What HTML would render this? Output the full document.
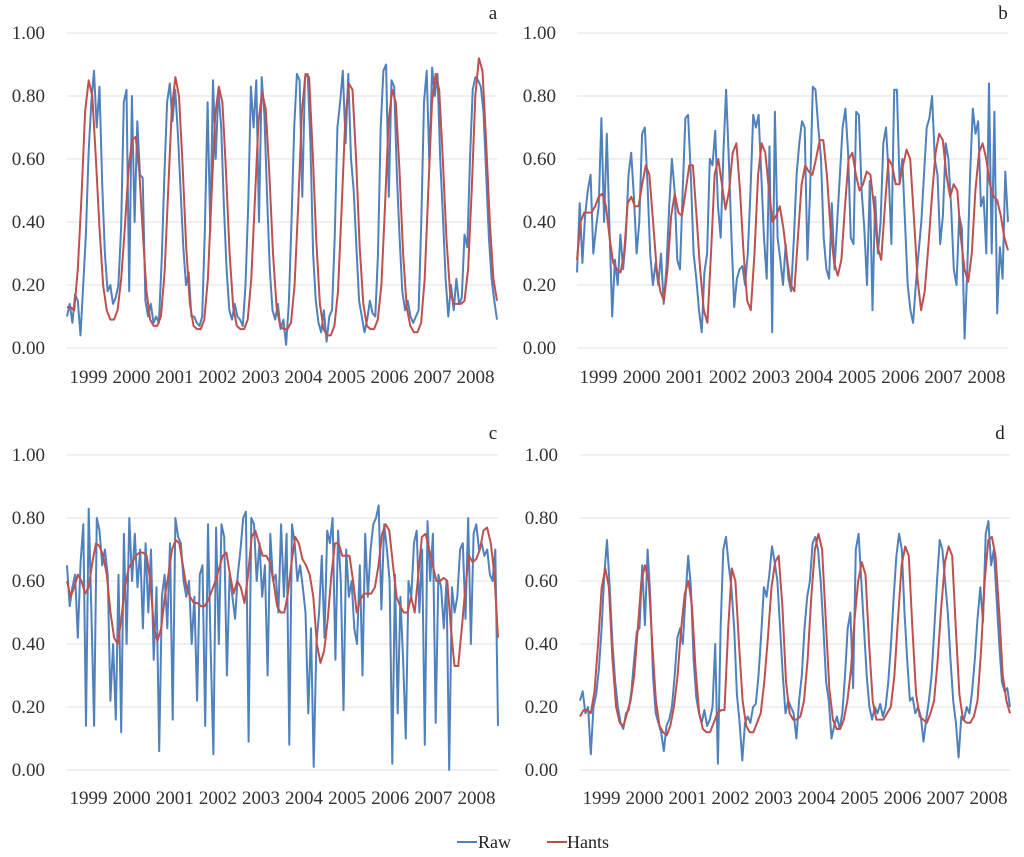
<!DOCTYPE html>
<html><head><meta charset="utf-8">
<style>
html,body{margin:0;padding:0;background:#fff;}
svg{display:block;font-family:"Liberation Serif",serif;}
</style></head>
<body>
<svg id="chart" width="1024" height="857" viewBox="0 0 1024 857" xmlns="http://www.w3.org/2000/svg">
  <g id="legend">
    <line x1="457" y1="842" x2="477" y2="842" stroke="#4f81bd" stroke-width="2"/>
    <text x="478" y="848" font-size="18" fill="#222">Raw</text>
    <line x1="547" y1="842" x2="567" y2="842" stroke="#c0504d" stroke-width="2"/>
    <text x="567" y="848" font-size="18" fill="#222">Hants</text>
  </g>
</svg>
<script>
const years = ["1999","2000","2001","2002","2003","2004","2005","2006","2007","2008"];
const yTicks = [0, 0.2, 0.4, 0.6, 0.8, 1.0];
const yTickLabels = ["0.00","0.20","0.40","0.60","0.80","1.00"];

const hantsA = [0.13,
0.13,0.12,0.25,0.48,0.75,0.85,0.80,0.60,0.38,0.20,0.12,0.09,
0.09,0.12,0.22,0.38,0.56,0.66,0.67,0.56,0.36,0.18,0.09,0.07,
0.07,0.10,0.24,0.50,0.76,0.86,0.80,0.58,0.32,0.14,0.07,0.06,
0.06,0.09,0.22,0.48,0.74,0.83,0.78,0.56,0.30,0.13,0.07,0.06,
0.06,0.09,0.22,0.47,0.72,0.81,0.76,0.55,0.30,0.13,0.07,0.06,
0.06,0.08,0.20,0.46,0.75,0.87,0.86,0.62,0.34,0.14,0.06,0.04,
0.04,0.07,0.18,0.44,0.72,0.84,0.82,0.60,0.32,0.14,0.07,0.06,
0.06,0.09,0.20,0.45,0.72,0.82,0.78,0.57,0.30,0.13,0.07,0.05,
0.05,0.08,0.22,0.50,0.78,0.87,0.82,0.60,0.35,0.18,0.14,0.14,
0.14,0.15,0.25,0.50,0.80,0.92,0.88,0.65,0.40,0.22,0.15];
const rawA = [0.10,0.14,
0.08,0.17,0.15,0.04,0.20,0.36,0.62,0.78,0.88,0.70,0.83,0.52,0.30,0.18,0.20,0.14,
0.16,0.20,0.38,0.78,0.82,0.18,0.80,0.40,0.72,0.55,0.54,0.15,0.10,0.14,0.08,0.10,
0.08,0.28,0.55,0.78,0.84,0.72,0.82,0.68,0.50,0.32,0.20,0.24,0.10,0.10,0.08,0.07,
0.10,0.38,0.78,0.37,0.85,0.60,0.82,0.70,0.45,0.25,0.12,0.09,0.14,0.10,0.09,0.07,
0.20,0.45,0.83,0.70,0.85,0.40,0.86,0.74,0.48,0.25,0.12,0.09,0.14,0.06,0.09,0.01,
0.14,0.40,0.70,0.87,0.85,0.48,0.86,0.87,0.65,0.30,0.15,0.08,0.05,0.12,0.02,0.10,
0.12,0.35,0.70,0.78,0.88,0.65,0.87,0.60,0.50,0.32,0.15,0.10,0.05,0.09,0.15,0.11,
0.10,0.30,0.70,0.88,0.90,0.48,0.85,0.83,0.55,0.35,0.18,0.12,0.15,0.10,0.08,0.10,
0.12,0.40,0.78,0.88,0.58,0.89,0.80,0.87,0.60,0.42,0.22,0.10,0.20,0.12,0.22,0.14,
0.16,0.36,0.32,0.60,0.82,0.86,0.85,0.83,0.75,0.55,0.35,0.22,0.15,0.09];

const hantsB = [
0.28,0.40,0.43,0.43,0.43,0.45,0.48,0.49,0.45,0.35,0.27,0.25,
0.24,0.30,0.46,0.48,0.45,0.45,0.52,0.58,0.55,0.40,0.25,0.18,
0.15,0.25,0.42,0.49,0.43,0.42,0.50,0.58,0.58,0.42,0.25,0.12,
0.08,0.30,0.55,0.60,0.52,0.44,0.50,0.62,0.65,0.50,0.30,0.15,
0.12,0.30,0.55,0.65,0.62,0.50,0.40,0.42,0.45,0.38,0.28,0.20,
0.18,0.35,0.52,0.58,0.56,0.55,0.60,0.66,0.66,0.55,0.38,0.27,
0.23,0.28,0.45,0.60,0.62,0.55,0.50,0.52,0.56,0.55,0.45,0.32,
0.28,0.45,0.60,0.58,0.52,0.52,0.58,0.63,0.60,0.42,0.22,0.12,
0.18,0.32,0.48,0.62,0.68,0.66,0.55,0.48,0.52,0.50,0.35,0.25,
0.21,0.30,0.50,0.62,0.65,0.60,0.52,0.48,0.47,0.42,0.35,0.31];
const rawB = [
0.24,0.46,0.27,0.42,0.50,0.55,0.30,0.38,0.45,0.73,0.40,0.68,0.38,0.10,0.28,0.20,
0.36,0.25,0.35,0.55,0.62,0.48,0.30,0.40,0.68,0.70,0.52,0.30,0.20,0.27,0.20,0.30,
0.14,0.26,0.45,0.60,0.50,0.28,0.25,0.50,0.73,0.74,0.55,0.30,0.22,0.12,0.05,0.24,
0.30,0.60,0.58,0.69,0.45,0.35,0.62,0.82,0.60,0.35,0.13,0.22,0.25,0.26,0.20,0.30,
0.50,0.74,0.70,0.74,0.55,0.35,0.22,0.64,0.05,0.75,0.35,0.28,0.20,0.33,0.22,0.18,
0.35,0.55,0.65,0.72,0.70,0.28,0.50,0.83,0.82,0.70,0.60,0.35,0.25,0.22,0.46,0.25,
0.40,0.55,0.70,0.76,0.62,0.35,0.33,0.75,0.74,0.50,0.38,0.20,0.53,0.12,0.48,0.30,
0.40,0.65,0.70,0.55,0.33,0.82,0.82,0.52,0.60,0.40,0.20,0.12,0.08,0.20,0.30,0.40,
0.55,0.70,0.73,0.80,0.60,0.55,0.33,0.42,0.65,0.60,0.45,0.25,0.20,0.42,0.38,0.03,
0.25,0.55,0.76,0.68,0.72,0.45,0.48,0.30,0.84,0.30,0.75,0.11,0.32,0.22,0.56,0.40];

const hantsC = [
0.60,0.55,0.58,0.62,0.60,0.56,0.58,0.66,0.72,0.71,0.68,0.62,
0.50,0.42,0.40,0.48,0.58,0.64,0.66,0.68,0.69,0.69,0.68,0.60,
0.45,0.41,0.45,0.55,0.62,0.70,0.73,0.72,0.65,0.58,0.55,0.53,
0.53,0.52,0.52,0.54,0.57,0.60,0.64,0.68,0.69,0.62,0.56,0.60,
0.58,0.53,0.62,0.74,0.76,0.72,0.68,0.68,0.66,0.60,0.52,0.50,
0.50,0.56,0.66,0.74,0.72,0.67,0.65,0.62,0.55,0.40,0.34,0.38,
0.48,0.62,0.72,0.72,0.68,0.68,0.68,0.60,0.50,0.54,0.56,0.56,
0.56,0.58,0.65,0.75,0.78,0.76,0.65,0.55,0.52,0.50,0.50,0.55,
0.50,0.62,0.74,0.75,0.70,0.65,0.60,0.60,0.61,0.60,0.45,0.33,
0.33,0.45,0.58,0.68,0.66,0.67,0.70,0.76,0.77,0.72,0.62,0.42];
const rawC = [
0.65,0.52,0.58,0.62,0.42,0.66,0.78,0.14,0.83,0.50,0.14,0.80,0.76,0.65,0.70,0.62,
0.22,0.40,0.16,0.62,0.12,0.75,0.40,0.80,0.60,0.75,0.58,0.70,0.45,0.72,0.50,0.70,
0.35,0.58,0.06,0.55,0.62,0.45,0.72,0.16,0.80,0.74,0.72,0.60,0.55,0.60,0.40,0.55,
0.22,0.62,0.65,0.14,0.78,0.38,0.05,0.77,0.40,0.78,0.74,0.30,0.62,0.55,0.48,0.62,
0.70,0.80,0.82,0.09,0.80,0.78,0.60,0.72,0.55,0.65,0.30,0.75,0.60,0.62,0.50,0.78,
0.55,0.75,0.08,0.78,0.72,0.60,0.65,0.58,0.50,0.18,0.45,0.01,0.40,0.50,0.68,0.42,
0.76,0.72,0.80,0.35,0.76,0.60,0.19,0.70,0.55,0.60,0.45,0.40,0.65,0.30,0.75,0.55,
0.70,0.78,0.80,0.84,0.51,0.78,0.70,0.60,0.02,0.62,0.18,0.55,0.35,0.10,0.60,0.55,
0.72,0.76,0.50,0.70,0.08,0.79,0.60,0.75,0.15,0.62,0.58,0.45,0.60,0.00,0.58,0.50,
0.55,0.70,0.72,0.48,0.80,0.40,0.75,0.78,0.70,0.72,0.68,0.70,0.62,0.60,0.70,0.14];

const hantsD = [
0.17,0.19,0.19,0.18,0.25,0.40,0.58,0.64,0.58,0.35,0.20,0.15,
0.14,0.18,0.22,0.30,0.45,0.60,0.65,0.60,0.40,0.22,0.14,0.12,
0.11,0.14,0.20,0.30,0.45,0.56,0.60,0.52,0.32,0.18,0.13,0.12,
0.12,0.15,0.18,0.19,0.19,0.45,0.64,0.60,0.40,0.22,0.14,0.12,
0.12,0.15,0.18,0.28,0.42,0.58,0.66,0.68,0.52,0.28,0.18,0.16,
0.16,0.17,0.22,0.35,0.55,0.70,0.75,0.70,0.48,0.26,0.16,0.13,
0.13,0.16,0.22,0.32,0.48,0.60,0.66,0.62,0.40,0.22,0.16,0.16,
0.16,0.18,0.20,0.30,0.48,0.65,0.71,0.68,0.45,0.24,0.17,0.16,
0.15,0.18,0.22,0.35,0.52,0.66,0.71,0.68,0.45,0.24,0.16,0.15,
0.15,0.17,0.22,0.38,0.60,0.73,0.74,0.68,0.50,0.30,0.22,0.18];
const rawD = [0.22,
0.25,0.18,0.20,0.05,0.20,0.24,0.32,0.45,0.62,0.73,0.58,0.40,0.28,0.20,0.15,0.13,
0.18,0.19,0.25,0.35,0.44,0.45,0.65,0.46,0.70,0.55,0.30,0.18,0.15,0.12,0.06,0.14,
0.16,0.20,0.30,0.42,0.45,0.40,0.55,0.68,0.58,0.35,0.23,0.18,0.15,0.19,0.14,0.16,
0.20,0.40,0.02,0.45,0.70,0.74,0.65,0.58,0.45,0.24,0.15,0.03,0.15,0.17,0.15,0.20,
0.21,0.30,0.43,0.58,0.55,0.62,0.71,0.66,0.60,0.45,0.30,0.18,0.22,0.20,0.18,0.10,
0.22,0.30,0.45,0.55,0.60,0.72,0.74,0.70,0.60,0.45,0.28,0.22,0.10,0.14,0.17,0.13,
0.18,0.30,0.45,0.50,0.26,0.70,0.75,0.60,0.45,0.30,0.20,0.16,0.20,0.18,0.21,0.17,
0.20,0.28,0.40,0.55,0.68,0.75,0.70,0.50,0.35,0.22,0.23,0.18,0.20,0.17,0.09,0.16,
0.22,0.30,0.45,0.60,0.73,0.70,0.60,0.50,0.35,0.22,0.15,0.04,0.17,0.16,0.20,0.18,
0.25,0.35,0.48,0.58,0.47,0.75,0.79,0.65,0.70,0.55,0.40,0.28,0.25,0.26,0.20];

const NS = "http://www.w3.org/2000/svg";
const svg = document.getElementById('chart');
function mk(tag, attrs, parent){
  const e = document.createElementNS(NS, tag);
  for (const k in attrs) e.setAttribute(k, attrs[k]);
  parent.appendChild(e);
  return e;
}
const panels = [
  {id:'a', x0:67, x1:497, yT:33, yB:348, lx:45, yy:383, lt:[493,19], raw:rawA, hants:hantsA},
  {id:'b', x0:577, x1:1008, yT:33, yB:348, lx:556, yy:383, lt:[1003,19], raw:rawB, hants:hantsB},
  {id:'c', x0:67, x1:498, yT:455, yB:770, lx:45, yy:804, lt:[493,439], raw:rawC, hants:hantsC},
  {id:'d', x0:580, x1:1010, yT:455, yB:770, lx:558, yy:804, lt:[1000,439], raw:rawD, hants:hantsD}
];
panels.forEach(p => {
  const g = mk('g', {}, svg);
  
  
  const yS = v => p.yB - v * (p.yB - p.yT);
  const xS = (i, n) => p.x0 + i / (n - 1) * (p.x1 - p.x0);
  yTicks.forEach((t, k) => {
    const gl = mk('line', {x1:p.x0, x2:p.x1, y1:yS(t), y2:yS(t), stroke:'#e0e0e0', 'stroke-width':1}, g);
    
    
    const tl = mk('text', {x:p.lx, y:yS(t)+6, 'text-anchor':'end', 'font-size':19, fill:'#333'}, g);
    
    
    tl.textContent = yTickLabels[k];
  });
  const yw = (p.x1 - p.x0) / years.length;
  years.forEach((yr, k) => {
    const xl = mk('text', {x:p.x0 + (k+0.5)*yw, y:p.yy, 'text-anchor':'middle', 'font-size':19, fill:'#333'}, g);
    
    
    xl.textContent = yr;
  });
  const pl = mk('text', {x:p.lt[0], y:p.lt[1], 'text-anchor':'middle', 'font-size':19, fill:'#222'}, g);
  
  
  pl.textContent = p.id;
  const rp = p.raw.map((v,i) => xS(i, p.raw.length).toFixed(1) + ',' + yS(v).toFixed(1)).join(' ');
  const r = mk('polyline', {points:rp, fill:'none', stroke:'#4f81bd', 'stroke-width':2, 'stroke-linejoin':'round'}, g);
  
  
  const hp = p.hants.map((v,i) => xS(i, p.hants.length).toFixed(1) + ',' + yS(v).toFixed(1)).join(' ');
  const h = mk('polyline', {points:hp, fill:'none', stroke:'#c0504d', 'stroke-width':2, 'stroke-linejoin':'round'}, g);
  
  
});
</script>
</body></html>
